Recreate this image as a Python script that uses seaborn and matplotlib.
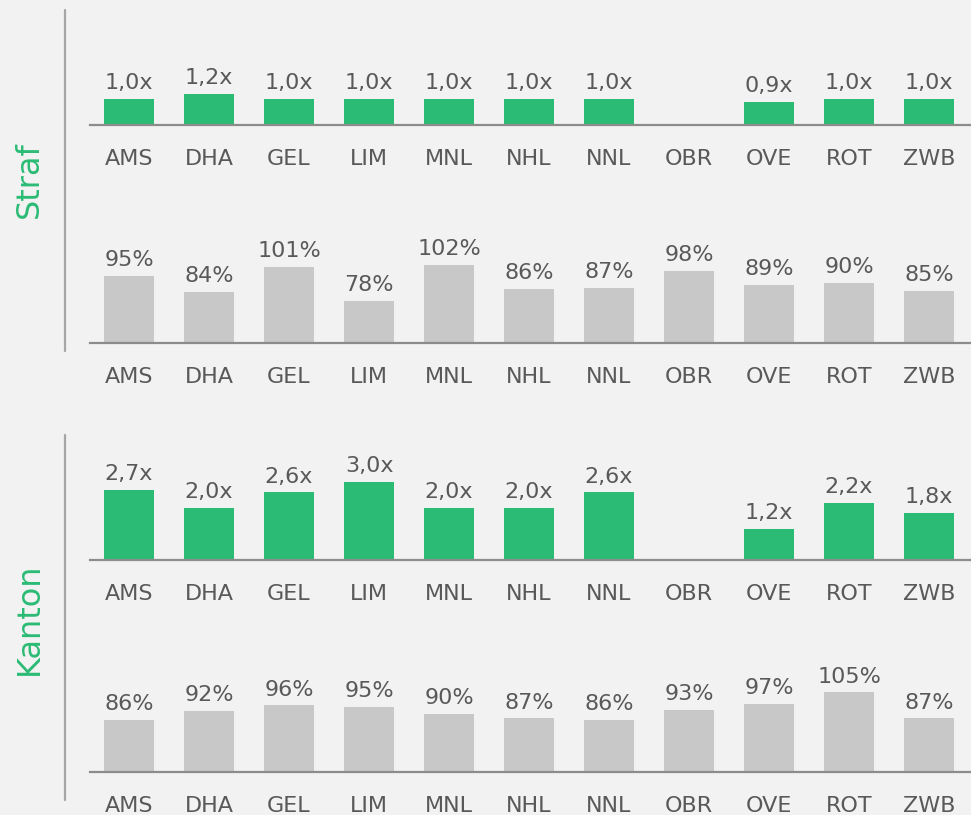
import numpy as np
import pandas as pd
import matplotlib
matplotlib.use("Agg")
import matplotlib.pyplot as plt
from matplotlib.lines import Line2D
import seaborn as sns

# Data
categories = ["AMS", "DHA", "GEL", "LIM", "MNL", "NHL", "NNL", "OBR", "OVE", "ROT", "ZWB"]
straf_multiple = [1.0, 1.2, 1.0, 1.0, 1.0, 1.0, 1.0, np.nan, 0.9, 1.0, 1.0]
straf_percent = [95, 84, 101, 78, 102, 86, 87, 98, 89, 90, 85]
kanton_multiple = [2.7, 2.0, 2.6, 3.0, 2.0, 2.0, 2.6, np.nan, 1.2, 2.2, 1.8]
kanton_percent = [86, 92, 96, 95, 90, 87, 86, 93, 97, 105, 87]
group_labels = ["Straf", "Kanton"]

# Styling
BG = "#F2F2F2"
GREEN = "#2BBB75"
GREY_BAR = "#C8C8C8"
TEXT = "#595959"
AXIS = "#8C8C8C"
DIVIDER = "#A6A6A6"

sns.set_theme(style="white")
plt.rcParams["font.family"] = ["DejaVu Sans"]

W, H = 971, 815
fig = plt.figure(figsize=(W / 100, H / 100), dpi=100, facecolor=BG)

# x range so bars sit at 129 + 80*i px, axis spanning 90..971 px
x_left_px, x_right_px = 90, 971
xlim = ((x_left_px - 129) / 80, (x_right_px - 129) / 80)


def make_axes(base_px, height_px):
    left = x_left_px / W
    bottom = 1 - base_px / H
    return fig.add_axes([left, bottom, (x_right_px - x_left_px) / W, height_px / H])


def fmt_multiple(v):
    return f"{v:.1f}".replace(".", ",") + "x"


def fmt_percent(v):
    return f"{v:g}%"


# (baseline px, height px, values, colour, ylim, formatter)
panels = [
    (125, 70, straf_multiple, GREEN, (0, 70 / 26), fmt_multiple),
    (343, 100, straf_percent, GREY_BAR, (50, 50 + 100 / 1.50), fmt_percent),
    (560, 90, kanton_multiple, GREEN, (0, 90 / 26), fmt_multiple),
    (772, 100, kanton_percent, GREY_BAR, (50, 50 + 100 / 1.45), fmt_percent),
]

for base, hpx, values, color, ylim, fmt in panels:
    ax = make_axes(base, hpx)
    df = pd.DataFrame({"cat": categories, "val": values})
    sns.barplot(data=df, x="cat", y="val", order=categories, color=color,
                width=50 / 80, saturation=1, ax=ax, errorbar=None,
                linewidth=0, edgecolor="none")
    ax.set_facecolor("none")
    ax.set_xlim(*xlim)
    ax.set_ylim(*ylim)
    ax.set_xlabel("")
    ax.set_ylabel("")
    ax.set_yticks([])
    for s in ["top", "right", "left"]:
        ax.spines[s].set_visible(False)
    ax.spines["bottom"].set_color(AXIS)
    ax.spines["bottom"].set_linewidth(1.6)
    ax.tick_params(axis="x", length=0, pad=17, labelsize=16, labelcolor=TEXT)
    for i, v in enumerate(values):
        if v is None or (isinstance(v, float) and np.isnan(v)):
            continue
        ax.annotate(fmt(v), xy=(i, v), xytext=(0, 7), textcoords="offset points",
                    ha="center", va="baseline", fontsize=16, color=TEXT,
                    annotation_clip=False)

# Group dividers and labels
for label, (y0, y1), yc in [("Straf", (10, 351), 180), ("Kanton", (435, 800), 619)]:
    fig.add_artist(Line2D([65 / W, 65 / W], [1 - y0 / H, 1 - y1 / H],
                          transform=fig.transFigure, color=DIVIDER, linewidth=1.6))
    fig.text(29 / W, 1 - yc / H, label, rotation=90, ha="center", va="center",
             fontsize=23, color=GREEN)

fig.savefig("out.png", dpi=100, facecolor=BG)
